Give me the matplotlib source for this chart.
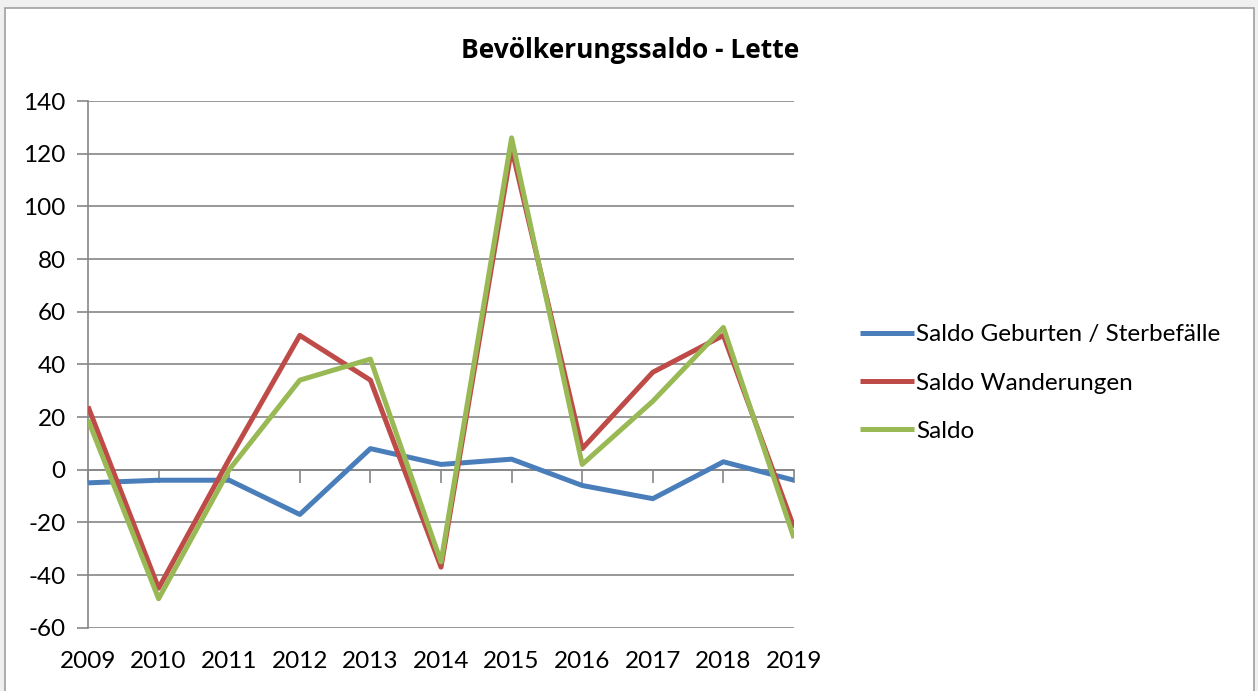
import matplotlib
matplotlib.use("Agg")
import matplotlib.pyplot as plt
from matplotlib.patches import Rectangle

years = list(range(2009, 2020))
geburten_sterbefaelle = [-5, -4, -4, -17, 8, 2, 4, -6, -11, 3, -4]
wanderungen = [24, -45, 4, 51, 34, -37, 122, 8, 37, 51, -22]
saldo = [19, -49, 0, 34, 42, -35, 126, 2, 26, 54, -26]

series_names = ["Saldo Geburten / Sterbefälle", "Saldo Wanderungen", "Saldo"]
colors = ["#4a7ebb", "#be4b48", "#98b954"]
GRID = "#868686"
FS = 17.5

plt.rcParams["font.family"] = ["Lato", "DejaVu Sans"]
plt.rcParams["axes.unicode_minus"] = False

W, H = 1258, 691
fig = plt.figure(figsize=(W / 100, H / 100), dpi=100)
fig.patch.set_facecolor("#f0f0f0")

# white chart area with thin grey frame
fig.patches.append(Rectangle((5 / W, -0.05), (1254 - 5) / W, 1.05 - 8 / H,
                             transform=fig.transFigure, facecolor="white",
                             edgecolor="#a0a0a0", linewidth=1.2, zorder=-10))

ax = fig.add_axes([88 / W, 1 - 627.7 / H, (794 - 88) / W, (627.7 - 101) / H])
ax.set_facecolor("none")

for vals, name, c in zip([geburten_sterbefaelle, wanderungen, saldo], series_names, colors):
    ax.plot(years, vals, color=c, lw=3.6, label=name, solid_joinstyle="round",
            solid_capstyle="butt", zorder=3)

ax.set_xlim(2009, 2019)
ax.set_ylim(-60, 140)
ax.set_yticks(range(-60, 141, 20))
ax.set_xticks(years)
ax.grid(axis="y", color=GRID, lw=1.2)
ax.set_axisbelow(True)

for side in ["top", "right", "bottom"]:
    ax.spines[side].set_visible(False)
ax.spines["left"].set_color(GRID)
ax.spines["left"].set_linewidth(1.2)

ax.tick_params(axis="y", direction="out", length=8, width=1.2, color=GRID,
               labelsize=FS, pad=8)
ax.tick_params(axis="x", length=0, labelsize=FS, pad=17)

# horizontal axis line at zero with category ticks
zero_axis = ax.secondary_xaxis(60 / 200)
zero_axis.set_xticks(years)
zero_axis.tick_params(direction="out", length=9, width=1.2, color=GRID, labelbottom=False)
zero_axis.spines["bottom"].set_color(GRID)
zero_axis.spines["bottom"].set_linewidth(1.2)

fig.text(630 / W, 1 - 50 / H, "Bevölkerungssaldo - Lette", ha="center", va="center",
         fontsize=19, fontweight="bold", family=["Open Sans", "DejaVu Sans"])

fig.legend(loc="center left", bbox_to_anchor=(860 / W, 1 - 383 / H), frameon=False,
           fontsize=FS, handlelength=2.22, handletextpad=0.08, labelspacing=1.12,
           borderpad=0, borderaxespad=0)

fig.savefig("out.png", dpi=100, facecolor=fig.get_facecolor())
